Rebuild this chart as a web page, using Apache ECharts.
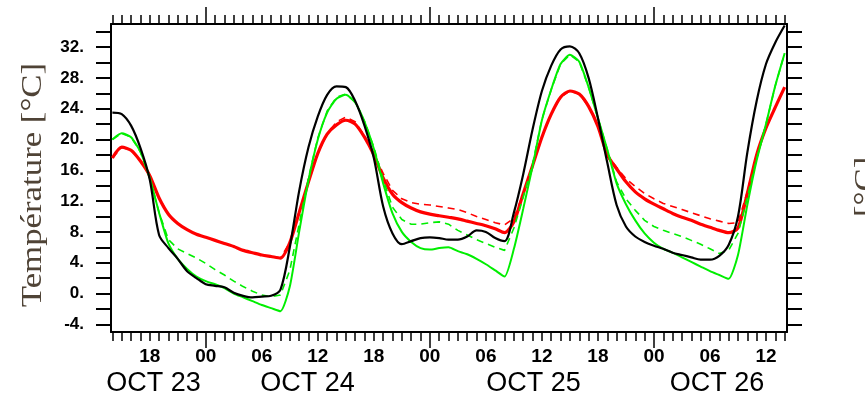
<!DOCTYPE html>
<html>
<head>
<meta charset="utf-8">
<script src="https://cdn.jsdelivr.net/npm/echarts@6/dist/echarts.min.js"></script>
<style>
html,body{margin:0;padding:0;background:#fff;}
#chart{width:865px;height:402px;}
</style>
</head>
<body>
<div id="chart"></div>
<script>
// Hourly values, index 0 = OCT 23 14:00 (hours counted from OCT 23 00:00)
const START_HOUR = 14;
const black = [23.5,23.3,21.8,18.9,14.8,7.6,5.9,4.5,2.9,2.0,1.2,1.0,0.8,0.1,-0.3,-0.5,-0.4,-0.3,0.5,6.0,13.3,19.0,23.0,25.8,26.9,26.8,25.0,21.8,17.6,11.3,7.8,6.4,6.8,7.2,7.3,7.2,7.0,7.0,7.4,8.2,8.0,7.2,6.8,10.5,15.5,21.3,26.3,29.6,31.7,32.1,31.2,28.0,22.8,17.0,11.5,8.7,7.4,6.7,6.2,5.8,5.3,5.0,4.7,4.4,4.4,4.9,6.3,10.0,18.3,25.0,29.8,32.6,34.8];
const greenSolid = [20.0,20.8,20.3,18.4,15.0,10.5,6.5,4.5,3.2,2.2,1.6,1.2,0.7,0.0,-0.5,-1.0,-1.5,-1.9,-2.3,0.9,8.0,14.7,20.0,23.5,25.3,25.8,24.8,22.3,18.8,14.3,10.4,8.0,6.7,5.9,5.7,5.9,6.0,5.5,5.1,4.5,3.8,3.0,2.2,5.8,11.0,16.5,22.5,26.5,29.8,31.0,30.1,26.8,22.8,18.7,14.3,11.6,9.5,7.8,6.6,5.8,5.3,4.7,4.1,3.5,2.9,2.4,1.9,5.0,11.5,17.3,22.0,27.0,31.2];
const greenDashed = [20.0,20.8,20.3,18.4,15.0,10.5,7.0,5.8,5.2,4.6,3.9,3.1,2.4,1.6,0.9,0.3,-0.2,-0.4,-0.2,3.0,9.0,15.0,20.2,23.7,25.5,25.9,24.9,22.4,19.0,14.8,11.2,9.6,9.0,9.0,9.2,9.3,9.0,8.2,7.6,7.0,6.5,6.0,5.6,8.5,12.5,16.8,22.6,26.5,29.8,31.0,30.1,26.8,22.8,18.7,14.5,12.3,10.8,9.5,8.7,8.2,7.8,7.4,6.9,6.4,5.8,5.2,5.6,7.8,12.5,17.5,22.0,27.0,31.2];
const redSolid = [17.6,19.0,18.6,17.2,15.3,12.4,10.3,9.1,8.3,7.7,7.3,6.9,6.5,6.1,5.6,5.3,5.0,4.8,4.6,6.6,10.5,14.5,18.2,20.7,21.9,22.5,22.0,20.3,18.0,15.0,12.9,11.8,11.1,10.6,10.3,10.1,9.9,9.7,9.4,9.1,8.8,8.4,7.9,9.3,13.0,16.6,20.3,23.3,25.5,26.3,25.9,24.3,21.7,18.0,16.2,14.5,13.2,12.3,11.6,11.0,10.4,9.9,9.5,9.0,8.6,8.2,7.9,8.5,13.0,18.0,21.5,24.2,26.8];
const redDashed = [17.6,19.0,18.6,17.2,15.3,12.4,10.3,9.1,8.3,7.7,7.3,6.9,6.5,6.1,5.6,5.3,5.0,4.8,4.6,6.6,10.5,14.5,18.2,20.7,22.3,22.9,22.3,20.5,18.2,15.6,13.4,12.3,11.8,11.6,11.5,11.3,11.1,10.9,10.5,10.0,9.6,9.2,8.9,9.8,13.0,16.6,20.3,23.3,25.5,26.3,25.9,24.3,21.7,18.0,16.4,14.9,13.9,13.0,12.3,11.7,11.3,10.9,10.5,10.1,9.7,9.4,9.1,9.2,13.2,18.0,21.5,24.2,26.8];

const hourTickVals = [14,15,16,17,18,19,20,21,22,23,24,25,26,27,28,29,30,31,32,33,34,35,36,37,38,39,40,41,42,43,44,45,46,47,48,49,50,51,52,53,54,55,56,57,58,59,60,61,62,63,64,65,66,67,68,69,70,71,72,73,74,75,76,77,78,79,80,81,82,83,84,85,86];
const midnightTicks = [24,48,72];
const hourLabelVals = [18,24,30,36,42,48,54,60,66,72,78,84];
const hourLabelText = ['18','00','06','12','18','00','06','12','18','00','06','12'];
const dateLabelText = ['OCT 23','OCT 24','OCT 25','OCT 26'];
const dateLabelPos = [18.4,34.9,59.1,78.75];
const yTickVals = [-4,-2,0,2,4,6,8,10,12,14,16,18,20,22,24,26,28,30,32,34];
const yLabelVals = [-4,0,4,8,12,16,20,24,28,32];
const yTitle = 'Température [°C]';

const X_MIN = 13.85, X_MAX = 86.25;
const toPairs = arr => arr.map((v, i) => [START_HOUR + i, v]);

const chart = echarts.init(document.getElementById('chart'), null, {renderer: 'canvas'});

function xBase(extra) {
  return Object.assign({
    type: 'value', min: X_MIN, max: X_MAX, gridIndex: 0,
    splitLine: {show: false},
    axisLine: {show: false, onZero: false, lineStyle: {color: '#000', width: 2}},
    axisTick: {show: false},
    axisLabel: {show: false}
  }, extra);
}

const option = {
  animation: false,
  backgroundColor: '#fff',
  grid: {left: 111, right: 78, top: 24, bottom: 70, containLabel: false},
  xAxis: [
    xBase({position: 'bottom',
      axisLine: {show: true, onZero: false, lineStyle: {color: '#000', width: 2}},
      axisTick: {show: true, inside: false, length: 9, customValues: hourTickVals, lineStyle: {color: '#000', width: 1.5}},
      axisLabel: {show: true, customValues: hourLabelVals, margin: 15,
        formatter: v => hourLabelText[hourLabelVals.indexOf(v)],
        fontFamily: 'Liberation Sans', fontWeight: 'bold', fontSize: 19, color: '#000'}
    }),
    xBase({position: 'bottom',
      axisTick: {show: true, inside: false, length: 16, customValues: midnightTicks, lineStyle: {color: '#000', width: 1.5}}
    }),
    xBase({position: 'top',
      axisLine: {show: true, onZero: false, lineStyle: {color: '#000', width: 2}},
      axisTick: {show: true, inside: false, length: 9, customValues: hourTickVals, lineStyle: {color: '#000', width: 1.5}}
    }),
    xBase({position: 'top',
      axisTick: {show: true, inside: false, length: 17, customValues: midnightTicks, lineStyle: {color: '#000', width: 1.5}}
    }),
    xBase({position: 'bottom',
      axisLabel: {show: true, customValues: dateLabelPos, margin: 38,
        formatter: v => dateLabelText[dateLabelPos.indexOf(v)],
        fontFamily: 'Liberation Sans', fontSize: 27, color: '#000'}
    })
  ],
  yAxis: [
    {type: 'value', min: -5, max: 35, position: 'left', gridIndex: 0,
      splitLine: {show: false},
      axisLine: {show: true, onZero: false, lineStyle: {color: '#000', width: 2}},
      axisTick: {show: true, inside: false, length: 15, customValues: yTickVals, lineStyle: {color: '#000', width: 2}},
      axisLabel: {show: true, customValues: yLabelVals, margin: 27, formatter: v => v + '.',
        fontFamily: 'Liberation Sans', fontWeight: 'bold', fontSize: 17, color: '#000'}
    },
    {type: 'value', min: -5, max: 35, position: 'right', gridIndex: 0,
      splitLine: {show: false},
      axisLine: {show: true, onZero: false, lineStyle: {color: '#000', width: 2}},
      axisTick: {show: true, inside: false, length: 15, customValues: yTickVals, lineStyle: {color: '#000', width: 2}},
      axisLabel: {show: false}
    }
  ],
  graphic: [
    {type: 'text', x: 33, y: 185, rotation: Math.PI / 2, scaleX: 1.2,
      style: {text: yTitle, fontFamily: 'Liberation Serif', fontSize: 29, fill: '#4f4336',
        textAlign: 'center', textVerticalAlign: 'middle'}},
    {type: 'text', x: 866, y: 217, rotation: Math.PI / 2, scaleX: 1.2,
      style: {text: '[°C]', fontFamily: 'Liberation Serif', fontSize: 29, fill: '#4f4336',
        textAlign: 'left', textVerticalAlign: 'middle'}}
  ],
  series: [
    {type: 'line', name: 'red dashed', data: toPairs(redDashed), symbol: 'none',
      lineStyle: {color: '#ff0000', width: 1.6, type: [7, 5]}},
    {type: 'line', name: 'red', data: toPairs(redSolid), symbol: 'none', smooth: 0.25,
      lineStyle: {color: '#ff0000', width: 3.2}},
    {type: 'line', name: 'green dashed', data: toPairs(greenDashed), symbol: 'none',
      lineStyle: {color: '#00ee00', width: 1.6, type: [7, 5]}},
    {type: 'line', name: 'green', data: toPairs(greenSolid), symbol: 'none', smooth: 0.2,
      lineStyle: {color: '#00ee00', width: 2}},
    {type: 'line', name: 'black', data: toPairs(black), symbol: 'none', smooth: 0.3,
      lineStyle: {color: '#000000', width: 2.2}}
  ]
};
chart.setOption(option);
</script>
</body>
</html>
